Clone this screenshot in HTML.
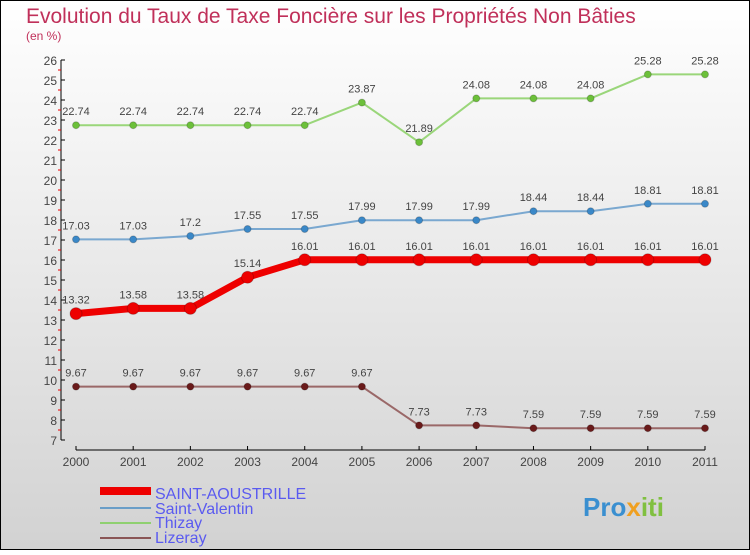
<!DOCTYPE html>
<html><head><meta charset="utf-8"><style>
body{margin:0;width:750px;height:550px;overflow:hidden;font-family:"Liberation Sans",sans-serif}
svg text{font-family:"Liberation Sans",sans-serif}
</style></head><body>
<svg id="c" width="750" height="550" xmlns="http://www.w3.org/2000/svg">
<defs><linearGradient id="bg" x1="0" y1="0" x2="0" y2="1"><stop offset="0" stop-color="#ffffff"/><stop offset="1" stop-color="#d2d2d2"/></linearGradient></defs>
<rect x="0.5" y="0.5" width="749" height="549" fill="url(#bg)" stroke="#000"/>
<text x="26" y="23" font-size="21" fill="#c0305a">Evolution du Taux de Taxe Foncière sur les Propriétés Non Bâties</text>
<text x="26" y="40" font-size="12" fill="#c0305a">(en %)</text>
<g id="axes"></g><g id="series"></g>
<g>
<rect x="100" y="487" width="51" height="8" fill="#e00"/>
<text x="155" y="499" font-size="16" fill="#5a5af0">SAINT-AOUSTRILLE</text>
<rect x="100" y="507" width="51" height="2" fill="#6a9ec8"/>
<text x="155" y="514" font-size="16" fill="#5a5af0">Saint-Valentin</text>
<rect x="100" y="522" width="51" height="2" fill="#8fd070"/>
<text x="155" y="528" font-size="16" fill="#5a5af0">Thizay</text>
<rect x="100" y="537" width="51" height="2" fill="#8a5555"/>
<text x="155" y="543" font-size="16" fill="#5a5af0">Lizeray</text>
</g>
<text x="583" y="516" font-size="26" font-weight="bold" fill="#3a8fd0">Pro<tspan fill="#f0a020">x</tspan><tspan fill="#80c040">iti</tspan></text>
</svg>
<script>
const years=[2000,2001,2002,2003,2004,2005,2006,2007,2008,2009,2010,2011];
const yTicks=[7,8,9,10,11,12,13,14,15,16,17,18,19,20,21,22,23,24,25,26];
const saintAoustrille=[13.32,13.58,13.58,15.14,16.01,16.01,16.01,16.01,16.01,16.01,16.01,16.01];
const saintValentin=[17.03,17.03,17.2,17.55,17.55,17.99,17.99,17.99,18.44,18.44,18.81,18.81];
const thizay=[22.74,22.74,22.74,22.74,22.74,23.87,21.89,24.08,24.08,24.08,25.28,25.28];
const lizeray=[9.67,9.67,9.67,9.67,9.67,9.67,7.73,7.73,7.59,7.59,7.59,7.59];
const NS="http://www.w3.org/2000/svg";
const X=i=>76+i*(705-76)/11, Y=v=>60+(26-v)*20;
function mk(p,t,a){const e=document.createElementNS(NS,t);for(const k in a)e.setAttribute(k,a[k]);p.appendChild(e);return e;}
const ax=document.getElementById('axes'),sg=document.getElementById('series');
let l=mk(ax,'line',{x1:61,y1:60,x2:61,y2:440,stroke:'#000'});


yTicks.forEach(v=>{
 mk(ax,'line',{x1:61,y1:Y(v),x2:65,y2:Y(v),stroke:'#000'});
 if(v>7)mk(ax,'line',{x1:58,y1:Y(v)+10,x2:61,y2:Y(v)+10,stroke:'#e00'});
 const t=mk(ax,'text',{x:57,y:Y(v)+5,'font-size':12,fill:'#444','text-anchor':'end'});t.textContent=v;
 
 
});
l=mk(ax,'line',{x1:76,y1:450,x2:705,y2:450,stroke:'#000'});


years.forEach((y,i)=>{
 mk(ax,'line',{x1:X(i),y1:446,x2:X(i),y2:450,stroke:'#000'});
 const t=mk(ax,'text',{x:X(i),y:466,'font-size':12,fill:'#444','text-anchor':'middle'});t.textContent=y;
 
 
});
function fmt(v){return String(v);}
function draw(d,name,col,dot,w,r){
 const g=mk(sg,'g',{});
 
 
 const p=mk(g,'polyline',{points:d.map((v,i)=>X(i)+','+Y(v)).join(' '),fill:'none',stroke:col,'stroke-width':w,'stroke-linejoin':'round'});
 
 
 d.forEach((v,i)=>{
  const c=mk(g,'circle',{cx:X(i),cy:Y(v),r:r,fill:dot,stroke:'#0003'});
  
  
  const t=mk(g,'text',{x:X(i),y:Y(v)-10,'font-size':11,fill:'#444','text-anchor':'middle'});t.textContent=fmt(v);
  
  
 });
}
draw(thizay,'thizay','#9ad67a','#6cc03a',2,3.5);
draw(saintValentin,'saint-valentin','#7aa8d0','#3a88c8',2,3.5);
draw(lizeray,'lizeray','#9a6868','#6a1a1a',2,3.5);
draw(saintAoustrille,'saint-aoustrille','#ee0000','#ee0000',7,6);
</script>
</body></html>
